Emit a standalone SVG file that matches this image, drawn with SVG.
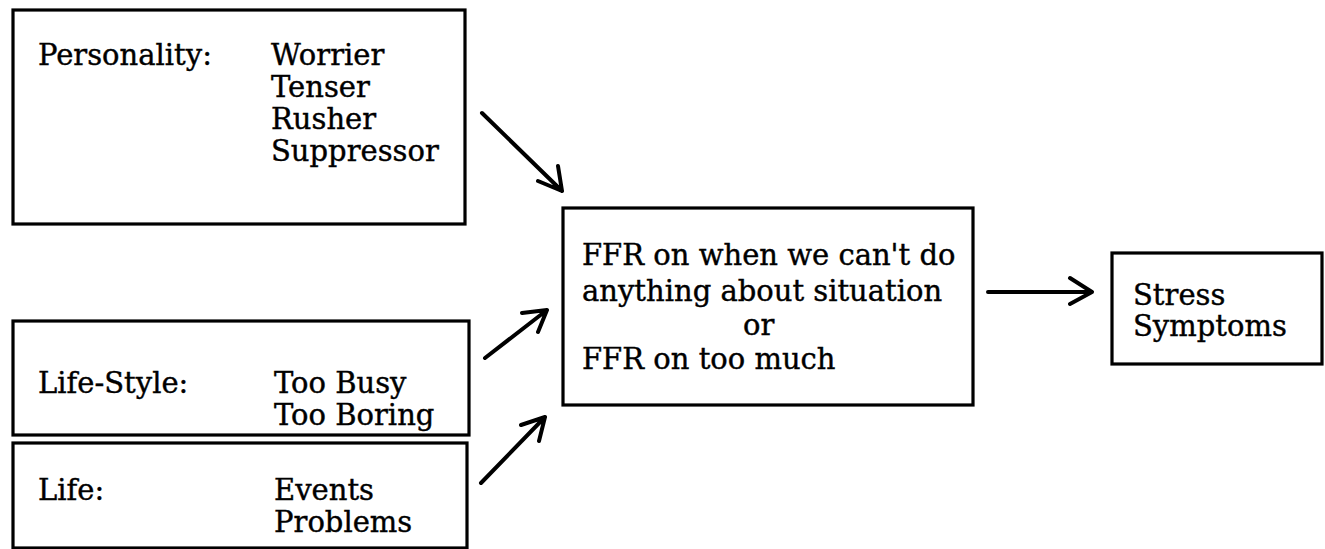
<svg xmlns="http://www.w3.org/2000/svg" width="1325" height="549" viewBox="0 0 1325 549">
<style>
.box{fill:#fff;stroke:#000;stroke-width:3.2}
.t{font-family:"DejaVu Serif","Liberation Serif",serif;font-size:29px;fill:#000;stroke:#000;stroke-width:0.4}
.c{fill:none;stroke:#000;stroke-width:4;stroke-linecap:round;stroke-linejoin:round}
</style>
<rect width="1325" height="549" fill="#fff"/>
<g id="personality">
<rect class="box" x="13" y="10" width="452" height="214"/>
<text class="t" x="38" y="65">Personality:</text>
<text class="t" x="271" y="65">Worrier</text>
<text class="t" x="271" y="97">Tenser</text>
<text class="t" x="271" y="129">Rusher</text>
<text class="t" x="271" y="161">Suppressor</text>
</g>
<g id="lifestyle">
<rect class="box" x="13" y="321" width="456" height="114"/>
<text class="t" x="38" y="393">Life-Style:</text>
<text class="t" x="274" y="393">Too Busy</text>
<text class="t" x="274" y="425">Too Boring</text>
</g>
<g id="life">
<rect class="box" x="13" y="443" width="454" height="105"/>
<text class="t" x="38" y="500">Life:</text>
<text class="t" x="274" y="500">Events</text>
<text class="t" x="274" y="532">Problems</text>
</g>
<g id="ffr">
<rect class="box" x="563" y="208" width="410" height="197"/>
<text class="t" x="582" y="265">FFR on when we can't do</text>
<text class="t" x="582" y="301">anything about situation</text>
<text class="t" x="743" y="335">or</text>
<text class="t" x="582" y="369">FFR on too much</text>
</g>
<g id="stress">
<rect class="box" x="1112" y="253" width="210" height="111"/>
<text class="t" x="1133" y="305">Stress</text>
<text class="t" x="1133" y="336">Symptoms</text>
</g>
<g id="connectors">
<path class="c" d="M482 113 L562 191 M538 181 L562 191 L558 166"/>
<path class="c" d="M485 358 L547 310 M522 313 L547 310 L538 332"/>
<path class="c" d="M481 483 L545 417 M521 425 L545 417 L539 441"/>
<path class="c" d="M988 292 L1092 292 M1070 278 L1092 292 L1070 304"/>
</g>
</svg>
